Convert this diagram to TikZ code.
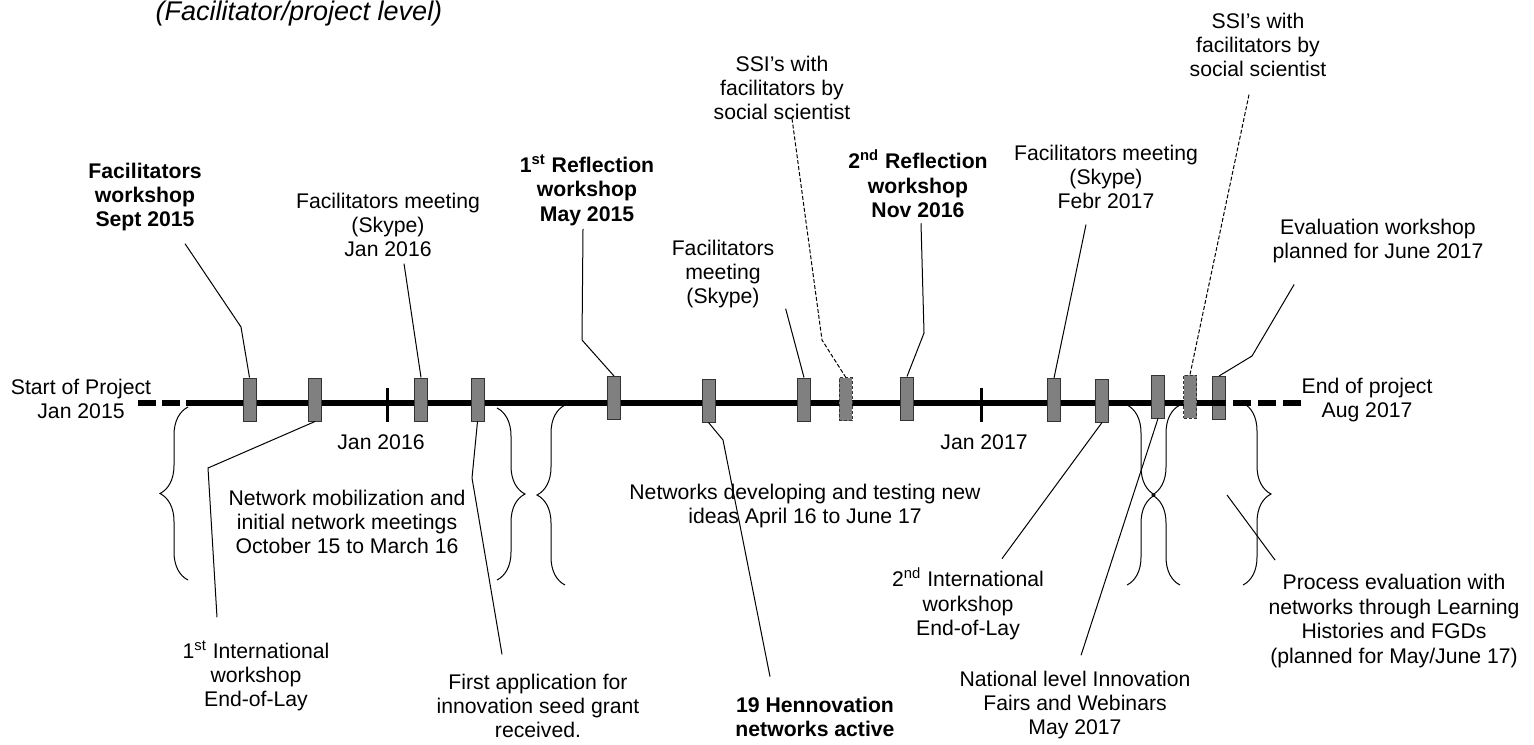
\documentclass[tikz,border=0pt]{standalone}
\usepackage{fontspec}
\setmainfont{Liberation Sans}
\usetikzlibrary{decorations.pathreplacing}
\tikzset{
  evt/.style  = {draw=black!80, fill=black!50, minimum width=6.5pt,
                 minimum height=21.5pt, inner sep=0pt, line width=0.5pt},
  ssi/.style  = {evt, dash pattern=on 1.5pt off 1pt},
  lbl/.style  = {align=center, inner sep=0pt, font=\fontsize{10.6}{12.2}\selectfont},
  blbl/.style = {lbl, font=\fontsize{10.6}{12.2}\selectfont\bfseries},
  lead/.style = {line width=0.5pt},
  dlead/.style= {lead, dash pattern=on 2pt off 1pt},
  axis/.style = {line width=2.75pt},
  tck/.style  = {line width=1.5pt},
  brc/.style  = {decorate, decoration={brace, amplitude=14pt}, line width=0.5pt}
}

\begin{document}
\begin{tikzpicture}[x=0.5pt, y=-0.5pt]
  \useasboundingbox (0,0) rectangle (1534,744);
  \draw[axis, dash pattern=on 9pt off 3pt] (138,403) -- (188,403);
  \draw[axis] (188,403) -- (1208,403);
  \draw[tck] (387,388) -- (387,422);
  \draw[tck] (981,388) -- (981,422);
  \node[evt] (m1)  at (249.5,399.5) {};
  \node[evt] (m2)  at (315,399.5) {};
  \node[evt] (m3)  at (421,399.5) {};
  \node[evt] (m4)  at (477.5,399.5) {};
  \node[evt] (m5)  at (614,398) {};
  \node[evt] (m6)  at (708.5,400.5) {};
  \node[evt] (m7)  at (804,399.5) {};
  \node[ssi] (m8)  at (845.5,399) {};
  \node[evt] (m9)  at (907,398.5) {};
  \node[evt] (m10) at (1054,400) {};
  \node[evt] (m11) at (1102,400.5) {};
  \node[evt] (m12) at (1158,396.5) {};
  \node[ssi] (m13) at (1190,396.5) {};
  \node[evt] (m14) at (1219,398) {};
  \draw[axis, dash pattern=on 9pt off 3.5pt] (1208,403) -- (1307,403);

  \node[lbl, font=\fontsize{13.5}{15}\selectfont\itshape] (lvl) at (299,14) {(Facilitator/project level)};
  \node[blbl] (fw)   at (145,197)  {Facilitators\\workshop\\Sept 2015};
  \node[lbl]  (fm1)  at (388,225)  {Facilitators meeting\\(Skype)\\Jan 2016};
  \node[blbl] (rw1)  at (587,190)  {1\textsuperscript{st} Reflection\\workshop\\May 2015};
  \node[lbl]  (fm2)  at (723,274)  {Facilitators\\meeting\\(Skype)};
  \node[lbl]  (ssi1) at (782,88)   {SSI’s with\\facilitators by\\social scientist};
  \node[blbl] (rw2)  at (918,184)  {2\textsuperscript{nd} Reflection\\workshop\\Nov 2016};
  \node[lbl]  (fm3)  at (1106,177) {Facilitators meeting\\(Skype)\\Febr 2017};
  \node[lbl]  (ssi2) at (1258,45)  {SSI’s with\\facilitators by\\social scientist};
  \node[lbl]  (ew)   at (1378,241) {Evaluation workshop\\planned for June 2017};

  \node[lbl] (start) at (81,399)   {Start of Project\\Jan 2015};
  \node[lbl] (end)   at (1367,400) {End of project\\Aug 2017};
  \node[lbl] (j16)   at (381,442)  {Jan 2016};
  \node[lbl] (j17)   at (984,442)  {Jan 2017};

  \node[lbl]  (net1) at (347,522)  {Network mobilization and\\initial network meetings\\October 15 to March 16};
  \node[lbl]  (net2) at (805,506)  {Networks developing and testing new\\ideas April 16 to June 17};
  \node[lbl]  (ii1)  at (256,676)  {1\textsuperscript{st} International\\workshop\\End-of-Lay};
  \node[lbl]  (fa)   at (538,706)  {First application for\\innovation seed grant\\received.};
  \node[blbl] (hn)   at (815,717)  {19 Hennovation\\networks active};
  \node[lbl]  (ii2)  at (968,604)  {2\textsuperscript{nd} International\\workshop\\End-of-Lay};
  \node[lbl]  (nl)   at (1075,705) {National level Innovation\\Fairs and Webinars\\May 2017};
  \node[lbl]  (pe)   at (1394,621) {Process evaluation with\\networks through Learning\\Histories and FGDs\\(planned for May/June 17)};
  \coordinate (pe0) at (1227,495);

  \draw[lead]  ([shift={(40,12)}]fw.south) -- (241,327) -- (m1.north);
  \draw[lead]  ([shift={(16,6)}]fm1.south) -- (m3.north);
  \draw[lead]  ([shift={(-4,3)}]rw1.south) -- (582,340) -- (m5.north);
  \draw[lead]  ([shift={(11,0)}]fm2.south east) -- (m7.north);
  \draw[dlead] ([shift={(10,-2)}]ssi1.south) -- (822,340) -- (m8.north);
  \draw[lead]  ([shift={(3,5)}]rw2.south) -- (924,333) -- (m9.north);
  \draw[lead]  ([shift={(-20,15)}]fm3.south) -- (m10.north);
  \draw[dlead] ([shift={(-9,17)}]ssi2.south) -- (m13.north);
  \draw[lead]  ([shift={(22,21)}]ew.south west) -- (1252,356) -- (m14.north);

  \draw[lead] (m2.south) -- (208,468) -- ([shift={(-39,-23)}]ii1.north);
  \draw[lead] (m4.south) -- (472,478) -- ([shift={(-36,-19)}]fa.north);
  \draw[lead] (m6.south) -- (723,440) -- ([shift={(-45,-20)}]hn.north);
  \draw[lead] (m11.south) -- ([shift={(34,-9)}]ii2.north);
  \draw[lead] (m12.south) -- ([shift={(6,-15)}]nl.north);
  \draw[lead] (pe0) -- ([shift={(7,-14)}]pe.north west);

  \draw[brc] (188,580) -- (188,407);
  \draw[brc] (497,408) -- (497,580);
  \draw[brc] (565,585) -- (565,405);
  \draw[brc] (1127,405) -- (1127,585);
  \draw[brc] (1180,585) -- (1180,405);
  \draw[brc] (1243,403) -- (1243,585);
\end{tikzpicture}
\end{document}
